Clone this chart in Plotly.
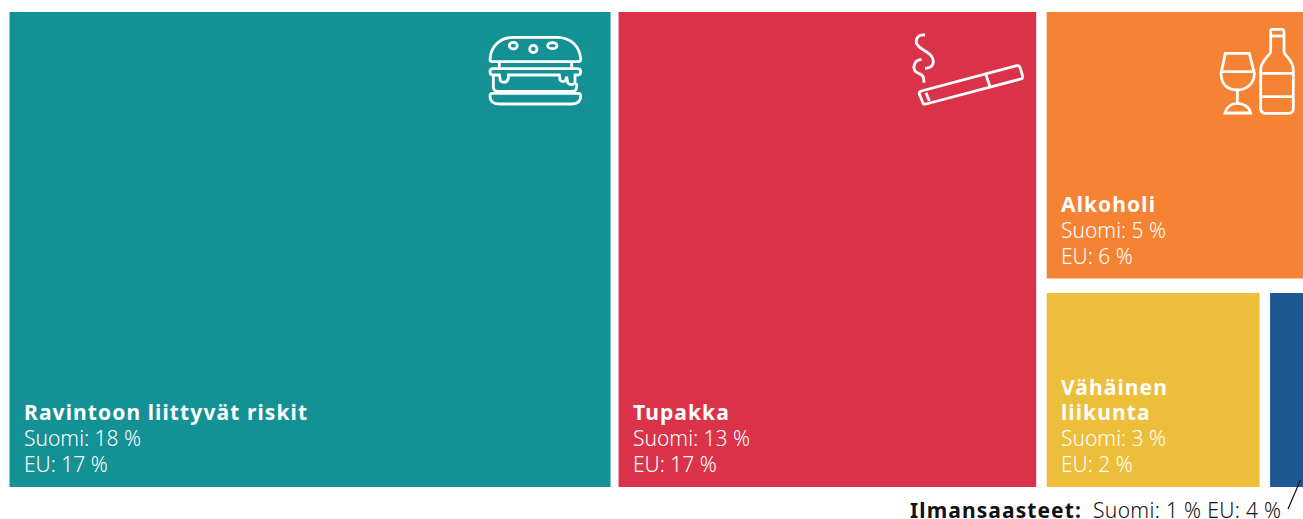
import re
import plotly.graph_objects as go

# --- data ---
risk_names = ["Ravintoon liittyvät riskit", "Tupakka", "Alkoholi", "Vähäinen<br>liikunta", "Ilmansaasteet"]
tile_sizes = [18.84, 13.09, 4.66, 2.93, 0.46]   # areas
suomi = [18, 13, 5, 3, 1]
eu = [17, 17, 6, 2, 4]
colors = ["#149195", "#DA3248", "#F68334", "#EDBE39", "#1D5894"]

# --- plot frame (pixels) ---
W, H = 1303, 519
L, R, T, B = 9.5, 1303.5, 12, 487
GAP12, GAP23, GAPV, GAPH = 8, 10.5, 14.5, 10.5
FONT = "Noto Sans"

# --- treemap layout computed from tile sizes ---
total = sum(tile_sizes)
content_w = (R - L) - GAP12 - GAP23
w0 = content_w * tile_sizes[0] / total
w1 = content_w * tile_sizes[1] / total
w2 = content_w - w0 - w1
x0, x1, x2 = L, L + w0 + GAP12, L + w0 + GAP12 + w1 + GAP23
col = sum(tile_sizes[2:])
h_avail = (B - T) - GAPV
h_top = h_avail * tile_sizes[2] / col
w_avail = w2 - GAPH
w_y = w_avail * tile_sizes[3] / (tile_sizes[3] + tile_sizes[4])
tiles = [
    (x0, w0, T, B),
    (x1, w1, T, B),
    (x2, w2, T, T + h_top),
    (x2, w_y, T + h_top + GAPV, B),
    (x2 + w_y + GAPH, w_avail - w_y, T + h_top + GAPV, B),
]

fig = go.Figure()
for (x, w, t, b), c, n in zip(tiles, colors, risk_names):
    fig.add_trace(go.Bar(x=[x + w / 2], width=[w], base=[t], y=[b - t], marker=dict(color=c, line_width=0),
                         name=n.replace("<br>", " "), hoverinfo="name"))

annotations = []
def label(x, y, text, weight, color="white", size=21):
    annotations.append(dict(x=x, y=y, xref="x", yref="y", text=text, showarrow=False, xanchor="left",
                            yanchor="middle", align="left",
                            font=dict(family=FONT, size=size, color=color, weight=weight)))

for i in range(4):
    x, w, t, b = tiles[i]
    lines = risk_names[i].split("<br>")
    label(x + 12.5, b - 23, f"EU: {eu[i]} %", 300)
    label(x + 12.5, b - 49, f"Suomi: {suomi[i]} %", 300)
    for k, ln in enumerate(reversed(lines)):
        label(x + 12.5, b - 75 - 25 * k, ln, 700)

label(908, 510, risk_names[4] + ":", 700, "#111111", 21)
label(1091, 510, f"Suomi: {suomi[4]} % EU: {eu[4]} %", 300, "#111111", 21)

# --- icons: paths written in crop coordinates (3x) then mapped to pixels ---
def tf(path, ox, oy):
    nums = iter(range(10**6))
    def rep(m):
        v = float(m.group())
        return f"{(v / 3 + (ox if next(nums) % 2 == 0 else oy)):.2f}"
    return re.sub(r"-?\d+\.?\d*", rep, path)

def ell(cx, cy, rx, ry):
    k = 0.55
    return (f"M {cx-rx} {cy} C {cx-rx} {cy-ry*k} {cx-rx*k} {cy-ry} {cx} {cy-ry} "
            f"C {cx+rx*k} {cy-ry} {cx+rx} {cy-ry*k} {cx+rx} {cy} "
            f"C {cx+rx} {cy+ry*k} {cx+rx*k} {cy+ry} {cx} {cy+ry} "
            f"C {cx-rx*k} {cy+ry} {cx-rx} {cy+ry*k} {cx-rx} {cy} Z")

burger = [
    "M 60 118 C 62 80 90 52 130 52 L 262 52 C 302 52 330 80 332 118 Q 332 125 325 125 L 67 125 Q 60 125 60 118 Z",
    ell(130, 77, 12, 10), ell(190, 87, 11, 11), ell(247, 77, 14, 9),
    "M 88 127 L 88 145 M 305 127 L 305 145",
    "M 70 146 L 322 146 Q 332 146 332 155 Q 332 165 322 165 L 315 165 L 315 188 Q 305 200 293 188 L 290 170 L 287 180 Q 280 190 270 180 L 268 165 L 115 165 L 115 175 Q 112 187 102 187 Q 90 187 90 175 L 88 165 L 70 165 Q 60 165 60 155 Q 60 146 70 146 Z",
    "M 70 168 L 70 200 Q 70 214 85 214 L 305 214 Q 320 214 320 200 L 320 190",
    "M 68 220 L 325 220 Q 332 220 332 228 Q 332 252 305 252 L 88 252 Q 60 252 60 228 Q 60 220 68 220 Z",
]
cig = [
    "M 58 222 Q 57 215 64 213 L 350 137 Q 357 136 360 142 L 368 168 Q 369 175 362 177 L 78 252 Q 70 254 68 247 Z",
    "M 78 218 L 88 243",
    "M 258 165 L 270 200",
    "M 75 45 C 50 42 42 65 55 78 C 68 92 100 100 100 125 C 100 145 75 145 75 145",
    "M 65 118 C 40 120 33 150 55 160 C 72 165 72 175 72 188",
]
wine = [
    "M 76 130 L 148 130 L 163 190 C 163 225 135 240 112 240 C 85 240 63 225 63 190 Z",
    "M 65 185 L 161 185",
    "M 112 240 L 112 280",
    "M 75 309 C 80 290 95 280 112 280 C 130 280 148 290 152 309 Z",
    "M 218 58 L 245 58 Q 252 58 252 65 L 252 125 C 252 135 280 150 280 180 L 280 295 Q 280 310 265 310 L 197 310 Q 182 310 182 295 L 182 180 C 182 150 212 135 212 125 L 212 65 Q 212 58 218 58 Z",
    "M 212 78 L 252 78",
    "M 182 190 L 280 190",
    "M 182 260 L 280 260",
]
shapes = []
for paths, ox, oy in [(burger, 470, 20), (cig, 900, 20), (wine, 1200, 10)]:
    for p in paths:
        shapes.append(dict(type="path", path=tf(p, ox, oy), xref="x", yref="y",
                           line=dict(color="white", width=2.8), layer="above"))
shapes.append(dict(type="line", xref="x", yref="y", x0=1288, y0=509, x1=1300.5, y1=480,
                   line=dict(color="#111111", width=1.2), layer="above"))

fig.update_layout(
    width=W, height=H, margin=dict(l=0, r=0, t=0, b=0), autosize=False,
    paper_bgcolor="white", plot_bgcolor="white", showlegend=False, barmode="overlay",
    xaxis=dict(range=[0, W], visible=False, fixedrange=True),
    yaxis=dict(range=[H, 0], visible=False, fixedrange=True),
    annotations=annotations, shapes=shapes,
)
css = ("document.body.style.margin='0';document.documentElement.style.overflow='hidden';"
       "var s=document.createElement('style');"
       "s.textContent='.annotation-text[style*=\"font-weight: 700\"]{letter-spacing:1.1px}"
       ".annotation-text[style*=\"font-weight: 300\"][style*=\"rgb(17, 17, 17)\"]{letter-spacing:.33px}';"
       "document.head.appendChild(s);")
fig.write_html("out.html", config=dict(displayModeBar=False, responsive=False), post_script=css)
